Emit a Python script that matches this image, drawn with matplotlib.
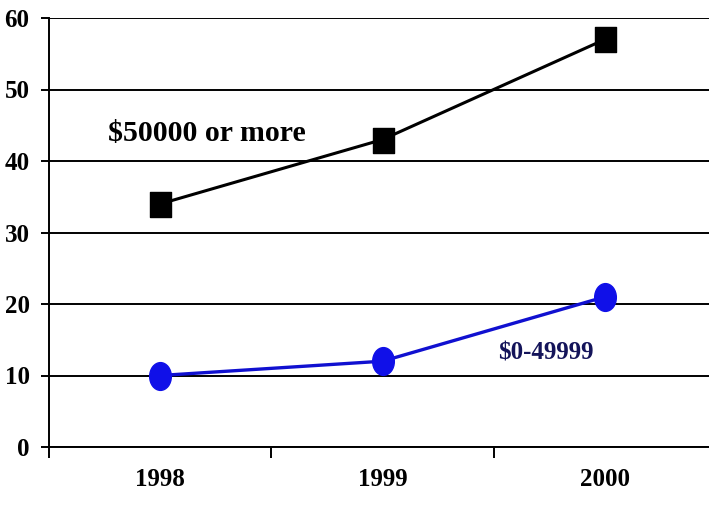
import matplotlib
matplotlib.use("Agg")
import matplotlib.pyplot as plt
from matplotlib.path import Path
from matplotlib.transforms import Affine2D

years = ["1998", "1999", "2000"]
high_income = [34, 43, 57]
low_income = [10, 12, 21]
high_label = "$50000 or more"
low_label = "$0-49999"
y_ticks = [0, 10, 20, 30, 40, 50, 60]

plt.rcParams["font.family"] = ["Liberation Serif", "DejaVu Serif"]
plt.rcParams["font.weight"] = "bold"

W, H = 709, 505
fig = plt.figure(figsize=(W / 100, H / 100), dpi=100)
left, right, bottom, top = 49, 716, 447, 18
ax = fig.add_axes([left / W, (H - bottom) / H, (right - left) / W, (bottom - top) / H])

xs = [i + 0.5 for i in range(len(years))]

# slightly tall square and ellipse markers
square = Path.unit_rectangle().transformed(Affine2D().translate(-0.5, -0.5).scale(0.84, 1.0))
ellipse = Path.unit_circle().transformed(Affine2D().scale(0.78, 1.0))

ax.plot(xs, high_income, color="black", lw=2.2, marker=square, markersize=18,
        markerfacecolor="black", markeredgecolor="black", zorder=3, clip_on=False)
ax.plot(xs, low_income, color="#1010d0", lw=2.4, marker=ellipse, markersize=20,
        markerfacecolor="#1010e8", markeredgecolor="#1010e8", zorder=3, clip_on=False)

ax.set_xlim(0, 3)
ax.set_ylim(0, 60)
ax.set_yticks(y_ticks)
ax.set_yticklabels([str(v) for v in y_ticks])
ax.yaxis.grid(True, color="black", lw=1.4)
ax.set_axisbelow(True)

ax.set_xticks([0, 1, 2, 3])
ax.set_xticklabels([])
ax.set_xticks(xs, minor=True)
ax.set_xticklabels(years, minor=True)
ax.tick_params(axis="x", which="minor", length=0, pad=15, labelsize=18)
ax.tick_params(axis="x", which="major", direction="out", length=8, width=1.4, color="black")
ax.tick_params(axis="y", direction="out", length=6, width=1.4, pad=8, labelsize=18)

for s in ["top", "right"]:
    ax.spines[s].set_visible(False)
ax.spines["left"].set_linewidth(1.4)
ax.spines["bottom"].set_linewidth(1.4)

ax.text(0.265, 43.9, high_label, fontsize=21.5, fontweight="bold", va="center", ha="left")
ax.text(2.02, 13.2, low_label, fontsize=18, fontweight="bold", va="center", ha="left",
        color="#14145a")

fig.savefig("out.png", dpi=100)
